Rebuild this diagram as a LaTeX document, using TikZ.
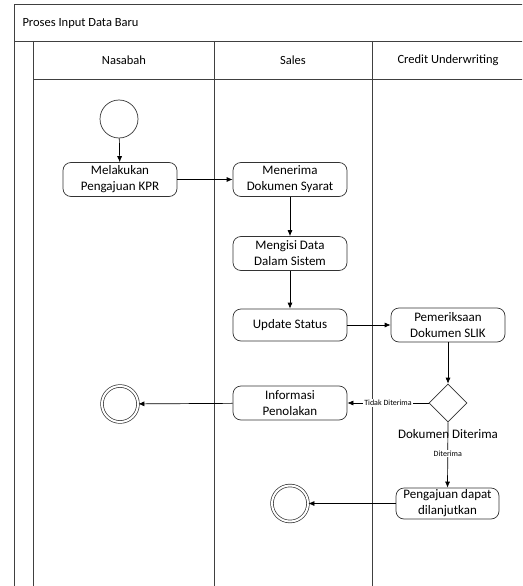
\documentclass[tikz,border=0pt]{standalone}
\usepackage{fontspec}
\setmainfont{Carlito}
\usetikzlibrary{arrows.meta,shapes.geometric}
\begin{document}
\begin{tikzpicture}[x=1pt,y=-1pt,
  lane/.style={draw=black!75,line width=0.9pt},
  act/.style={draw=black!80,line width=0.7pt,rounded corners=8pt,minimum width=114pt,minimum height=34pt,align=center,font=\fontsize{13}{16}\selectfont,inner sep=1pt},
  flow/.style={draw=black,line width=0.7pt,-{Latex[length=6pt,width=5pt]}},
  startnode/.style={circle,draw=black!80,line width=0.7pt,minimum size=38pt,inner sep=0pt},
  endnode/.style={circle,draw=black!80,line width=0.7pt,double,double distance=2pt,minimum size=36pt,inner sep=0pt},
  hdr/.style={font=\fontsize{12.5}{15}\selectfont},
  small/.style={font=\fontsize{8}{9}\selectfont,fill=white,inner sep=1pt}]
\useasboundingbox (0,0) rectangle (522,586);
\clip (0,0) rectangle (522,586);
\fill[white] (0,0) rectangle (522,586);
% swimlane frame
\draw[lane] (14,600) -- (14,4) -- (540,4);
\draw[lane] (14,41) -- (540,41);
\draw[lane] (33,79) -- (540,79);
\draw[lane] (33,41) -- (33,600);
\draw[lane] (214,41) -- (214,600);
\draw[lane] (372,41) -- (372,600);
\node[hdr,anchor=west] (title) at (19,23) {Proses Input Data Baru};
\node[hdr] (h1) at (124,60) {Nasabah};
\node[hdr] (h2) at (293,60) {Sales};
\node[hdr] (h3) at (448,60) {Credit Underwriting};
% nodes
\node[startnode] (start) at (119,119) {};
\node[act] (a1) at (120,179.5) {Melakukan\\Pengajuan KPR};
\node[act] (a2) at (290,179.5) {Menerima\\Dokumen Syarat};
\node[act] (a3) at (290,253.5) {Mengisi Data\\Dalam Sistem};
\node[act,minimum height=32pt] (a4) at (290,325) {Update Status};
\node[act] (a5) at (448,325) {Pemeriksaan\\Dokumen SLIK};
\node[diamond,draw=black!80,line width=0.7pt,minimum width=38pt,minimum height=38pt,inner sep=0pt] (d1) at (448,403) {};
\node[font=\fontsize{13}{16}\selectfont] (dl) at (448,434) {Dokumen Diterima};
\node[act] (a6) at (290,403) {Informasi\\Penolakan};
\node[act,minimum width=103pt,minimum height=31pt] (a7) at (447.5,503.5) {Pengajuan dapat\\dilanjutkan};
\node[endnode] (e1) at (120,404) {};
\node[endnode] (e2) at (290,503.5) {};
% connectors
\draw[flow] (start) -- (a1);
\draw[flow] (a1) -- (a2);
\draw[flow] (a2) -- (a3);
\draw[flow] (a3) -- (a4);
\draw[flow] (a4) -- (a5);
\draw[flow] (a5) -- (d1);
\draw[flow] (d1.west) -- node[small] {Tidak Diterima} (a6.east);
\draw[flow] (d1.south) -- node[small,pos=0.48] {Diterima} (a7.north);
\draw[flow] (a6) -- (e1);
\draw[flow] (a7) -- (e2);
\end{tikzpicture}
\end{document}
